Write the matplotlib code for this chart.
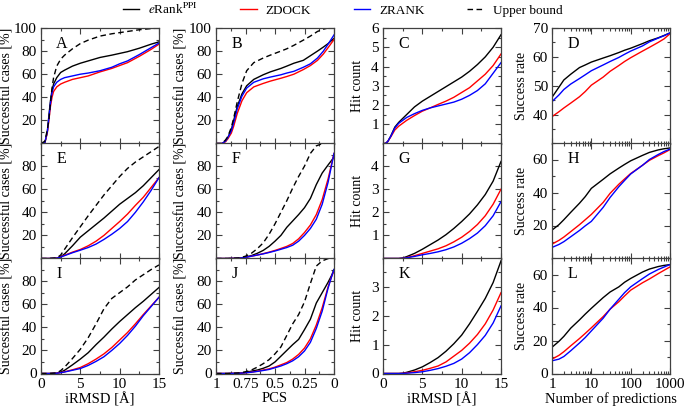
import numpy as np
import matplotlib.pyplot as plt
from matplotlib.ticker import MultipleLocator, FixedLocator, NullFormatter, LogLocator
from matplotlib.lines import Line2D

plt.rcParams['font.family'] = ['Liberation Serif', 'DejaVu Serif']
plt.rcParams['mathtext.fontset'] = 'stix'
plt.rcParams['font.size'] = 10

# ---- data ----
rmsd_a = [0, 0.5, 0.8, 1.0, 1.2, 1.4, 1.6, 2.0, 2.5, 3, 4, 5, 6, 7.5, 9, 10, 11, 12.5, 14, 15]
a_erank = [0, 1, 10, 24, 37, 46, 51.5, 57, 61.5, 63.5, 67, 69.5, 71.5, 74.5, 76.5, 78, 79.5, 82.5, 86, 88]
a_zdock = [0, 1, 9, 20, 32, 40, 45, 49, 51.5, 53, 55.5, 57, 58.5, 62, 65, 67.5, 70, 75.5, 81.5, 86]
a_zrank = [0, 1, 10, 22, 35, 44, 49, 53, 55.5, 57, 58.5, 60, 61, 63, 66, 69, 71.5, 77, 83, 87]
a_upper = [0, 2, 12, 20, 35, 48, 57, 67, 73, 76.5, 82, 86.5, 89.5, 93, 95, 96, 97, 98.5, 99.5, 100]

pcs_b = [1, 0.95, 0.92, 0.9, 0.87, 0.85, 0.82, 0.78, 0.74, 0.68, 0.6, 0.54, 0.45, 0.4, 0.34, 0.26, 0.2, 0.14, 0.09, 0.05, 0]
b_erank = [0, 0, 2, 5, 12, 20, 32, 43, 50, 55.5, 59.5, 62, 65, 67, 69.5, 72, 76, 80, 83.5, 86.5, 91]
b_zdock = [0, 0, 1.5, 4, 9, 15, 26, 37, 44, 49, 52, 54, 56.5, 58, 60, 64, 67.5, 72, 77.5, 83, 90]
b_zrank = [0, 0, 2, 5, 11, 18, 30, 41, 48, 53, 56, 57.5, 59.5, 61, 62.5, 66, 69, 74, 80, 86, 94]
b_upper = [0, 0, 3, 6, 14, 22, 36, 52, 63, 70, 74, 76.5, 80, 82, 85, 89.5, 93, 97, 99, 100, 100]

rmsd_c = [0, 0.3, 0.6, 1, 1.5, 2, 3, 4, 5, 6, 7, 8, 9, 10, 11, 12, 13, 14, 15]
c_erank = [0, 0, 0.1, 0.4, 0.85, 1.1, 1.5, 1.9, 2.2, 2.45, 2.7, 2.95, 3.2, 3.45, 3.75, 4.1, 4.5, 5.0, 5.65]
c_zdock = [0, 0, 0.1, 0.35, 0.7, 0.9, 1.2, 1.45, 1.68, 1.85, 2.03, 2.2, 2.4, 2.65, 2.9, 3.25, 3.6, 4.05, 4.65]
c_zrank = [0, 0, 0.1, 0.38, 0.8, 1.05, 1.35, 1.55, 1.72, 1.85, 1.95, 2.05, 2.15, 2.3, 2.5, 2.75, 3.1, 3.65, 4.2]

npred = [1, 1.5, 2, 3, 5, 7, 10, 20, 30, 50, 70, 100, 200, 300, 500, 700, 1000]
d_erank = [46, 49.5, 52, 54, 56.3, 57.2, 58.2, 59.6, 60.4, 61.5, 62.3, 63, 64.6, 65.6, 66.6, 67.4, 68.3]
d_zdock = [39.3, 41, 42.3, 44, 46.2, 48, 50.2, 53, 55, 57, 58.4, 59.7, 62, 63.3, 65, 66.2, 68]
d_zrank = [44.5, 46.8, 48.7, 50.6, 52.5, 53.8, 55.2, 57.2, 58.4, 59.8, 60.9, 62, 63.8, 65.2, 66.5, 67.3, 68.3]

rmsd_e = [0, 1, 2, 2.5, 3, 4, 5, 6, 7, 8, 9, 10, 11, 12, 13, 14, 15]
e_erank = [0, 0, 0.3, 1.5, 4, 11, 18.5, 24, 29.5, 35, 41, 47, 52, 57, 63, 70, 77]
e_zdock = [0, 0, 0.3, 1.5, 2.8, 5.5, 7.8, 11, 15, 20, 26, 32, 38.5, 46, 53, 61.5, 70]
e_zrank = [0, 0, 0.3, 1.3, 2.5, 5, 7.2, 9.5, 12.5, 16.5, 21, 26, 32, 40, 49, 59, 70]
e_upper = [0, 0, 0.5, 3, 8, 18, 27.5, 37, 46, 55, 63, 71, 78, 83.5, 88, 92.5, 97]

pcs_f = [1, 0.9, 0.8, 0.75, 0.7, 0.65, 0.6, 0.55, 0.5, 0.45, 0.4, 0.35, 0.3, 0.25, 0.2, 0.15, 0.1, 0.05, 0.02, 0]
f_erank = [0, 0, 0.3, 1.2, 2.5, 4.5, 7, 10.5, 15, 20, 27, 32.5, 38, 44, 52, 64, 74, 81, 85, 88]
f_zdock = [0, 0, 0.3, 1, 2, 3, 4.2, 5.5, 7, 8.7, 10.5, 13, 17, 22.5, 29, 38, 51, 69, 82, 91]
f_zrank = [0, 0, 0.3, 1, 2, 3, 4, 5.2, 6.5, 8, 9.5, 11.5, 15, 20, 26, 34, 47, 66, 81, 91]
f_upper = [0, 0, 0.5, 2, 4.5, 8.5, 13.5, 21, 30, 40, 50, 61, 71, 80, 91, 97.5, 99.5, 100, 100, 100]

rmsd_g = [0, 2, 2.5, 3, 4, 5, 6, 7, 8, 9, 10, 11, 12, 13, 14, 15]
g_erank = [0, 0, 0.02, 0.08, 0.22, 0.4, 0.6, 0.8, 1.03, 1.3, 1.6, 1.93, 2.32, 2.77, 3.35, 4.2]
g_zdock = [0, 0, 0.01, 0.04, 0.12, 0.22, 0.32, 0.42, 0.55, 0.72, 0.92, 1.17, 1.47, 1.85, 2.35, 3.0]
g_zrank = [0, 0, 0.01, 0.03, 0.09, 0.16, 0.22, 0.29, 0.38, 0.5, 0.66, 0.86, 1.1, 1.42, 1.85, 2.46]

h_erank = [17.2, 20.5, 23.5, 28, 33.5, 37.5, 42.5, 48, 51.3, 54.8, 57, 59.2, 62.5, 64.3, 65.8, 66.5, 67]
h_zdock = [8.7, 11, 13, 16.3, 20.5, 23.5, 26.7, 34, 39.5, 45, 48.2, 51.5, 56.5, 59.5, 62.3, 64, 66]
h_zrank = [6.7, 8.5, 10.2, 13.2, 17, 19.8, 22.5, 31, 37, 43.5, 47.3, 51.2, 56.5, 60, 63, 64.8, 66.3]

i_erank = [0, 0, 0.3, 1.2, 2.8, 7.5, 12.5, 18, 25, 31.5, 38.5, 45, 51, 57, 62.5, 68.5, 74.5]
i_zdock = [0, 0, 0.2, 0.8, 1.5, 3.2, 5.2, 8.5, 12.5, 17, 22.5, 29, 35.5, 43, 51, 58.5, 66]
i_zrank = [0, 0, 0.2, 0.7, 1.3, 2.8, 4.3, 7, 10.5, 14.5, 20, 26, 33, 41, 50, 58, 66]
i_upper = [0, 0, 0.5, 2.5, 5.5, 13, 21, 31, 43, 56, 65, 70, 75, 81, 85.5, 90, 94]

j_erank = [0, 0, 0.3, 1, 2, 3, 4.5, 6.5, 10, 15, 20, 25, 29.5, 38, 47, 61, 70, 79, 85, 90]
j_zdock = [0, 0, 0.2, 0.6, 1.2, 2, 3, 4, 5.5, 7.5, 9.5, 12.5, 16.5, 22, 30, 42, 57, 75, 84, 89]
j_zrank = [0, 0, 0.2, 0.6, 1.1, 1.8, 2.6, 3.5, 5, 6.5, 8.5, 11, 14.5, 19.5, 27, 39, 54, 74, 84, 90]
j_upper = [0, 0, 0.5, 1.5, 3, 5.5, 8.5, 12, 17, 23, 33, 43, 51, 62, 78, 93, 97.5, 99.5, 100, 100]

k_erank = [0, 0, 0.01, 0.04, 0.12, 0.23, 0.38, 0.55, 0.77, 1.03, 1.33, 1.72, 2.15, 2.6, 3.15, 3.9]
k_zdock = [0, 0, 0.005, 0.02, 0.06, 0.11, 0.18, 0.26, 0.4, 0.6, 0.8, 1.05, 1.35, 1.72, 2.2, 2.8]
k_zrank = [0, 0, 0.003, 0.01, 0.03, 0.06, 0.11, 0.17, 0.25, 0.35, 0.5, 0.72, 1.0, 1.32, 1.75, 2.34]

l_erank = [15.9, 19.5, 22.5, 27.5, 32.5, 36, 39.5, 46, 49.4, 52.5, 55.3, 57.6, 61.5, 63.3, 64.8, 65.5, 66]
l_zdock = [8.7, 11, 13.2, 16.8, 21.2, 24.3, 27.7, 34.5, 39, 43.5, 47, 50.5, 55, 57.3, 60.5, 62.5, 64.6]
l_zrank = [7.7, 8.7, 10.3, 13.8, 18.5, 21.8, 25.8, 33.5, 39, 45, 49, 52.5, 57.5, 60.3, 63, 64.5, 66]

letters = ['A', 'B', 'C', 'D', 'E', 'F', 'G', 'H', 'I', 'J', 'K', 'L']
ylabels = ['Successful cases [%]', 'Successful cases [%]', 'Hit count', 'Success rate']
xlabels = ['iRMSD [Å]', 'PCS', 'iRMSD [Å]', 'Number of predictions']

panels = [
    (rmsd_a, a_erank, a_zdock, a_zrank, a_upper),
    (pcs_b, b_erank, b_zdock, b_zrank, b_upper),
    (rmsd_c, c_erank, c_zdock, c_zrank, None),
    (npred, d_erank, d_zdock, d_zrank, None),
    (rmsd_e, e_erank, e_zdock, e_zrank, e_upper),
    (pcs_f, f_erank, f_zdock, f_zrank, f_upper),
    (rmsd_g, g_erank, g_zdock, g_zrank, None),
    (npred, h_erank, h_zdock, h_zrank, None),
    (rmsd_e, i_erank, i_zdock, i_zrank, i_upper),
    (pcs_f, j_erank, j_zdock, j_zrank, j_upper),
    (rmsd_g, k_erank, k_zdock, k_zrank, None),
    (npred, l_erank, l_zdock, l_zrank, None),
]

# y limits and labelled y ticks per panel
ylims = [(0, 100), (0, 100), (0, 6), (30, 70),
         (0, 100), (0, 100), (0, 5), (0, 70),
         (0, 100), (0, 100), (0, 4), (0, 70)]
yticks = [[20, 40, 60, 80, 100], [20, 40, 60, 80, 100], [1, 2, 3, 4, 5, 6], [40, 50, 60, 70],
          [20, 40, 60, 80], [20, 40, 60, 80], [1, 2, 3, 4], [20, 40, 60],
          [0, 20, 40, 60, 80], [0, 20, 40, 60, 80], [0, 1, 2, 3], [0, 20, 40, 60]]
yminor = [10, 10, 0.5, 5, 10, 10, 0.5, 10, 10, 10, 0.5, 10]

W, H = 685, 408
lefts = [41, 216, 383, 552]
tops = [28, 143, 258]
aw, ah = 118, 115.5
# right edge of the y label, in axes fraction, per column
ylab_x = [-0.235, -0.24, -0.165, -0.2]

fig = plt.figure(figsize=(6.85, 4.08), dpi=100)
frame = '0.25'

for k, (x, er, zd, zr, ub) in enumerate(panels):
    row, col = divmod(k, 4)
    ax = fig.add_axes([lefts[col] / W, 1 - (tops[row] + ah) / H, aw / W, ah / H])
    ax.plot(x, er, color='black', lw=1.0)
    ax.plot(x, zd, color='red', lw=1.0)
    ax.plot(x, zr, color='blue', lw=1.0)
    if ub is not None:
        ax.plot(x, ub, color='black', lw=1.0, ls=(0, (4, 2.5)))

    if col == 0 or col == 2:
        ax.set_xlim(0, 15)
        ax.xaxis.set_major_locator(FixedLocator([0, 5, 10, 15]))
        ax.xaxis.set_minor_locator(MultipleLocator(2.5))
        ax.set_xticklabels(['0', '5', '10', '15'])
    elif col == 1:
        ax.set_xlim(1, 0)
        ax.xaxis.set_major_locator(FixedLocator([1, 0.75, 0.5, 0.25, 0]))
        ax.xaxis.set_minor_locator(MultipleLocator(0.125))
        ax.set_xticklabels(['1', '0.75', '0.5', '0.25', '0'])
    else:
        ax.set_xscale('log')
        ax.set_xlim(1, 1000)
        ax.xaxis.set_major_locator(FixedLocator([1, 10, 100, 1000]))
        ax.xaxis.set_minor_locator(LogLocator(base=10, subs=np.arange(2, 10)))
        ax.xaxis.set_minor_formatter(NullFormatter())
        ax.set_xticklabels(['1', '10', '100', '1000'])

    ax.set_ylim(*ylims[k])
    ax.yaxis.set_major_locator(FixedLocator(yticks[k]))
    ax.yaxis.set_minor_locator(MultipleLocator(yminor[k]))
    ax.set_yticklabels([f'{v:g}' for v in yticks[k]])

    ax.tick_params(which='both', direction='in', top=True, right=True, color=frame)
    ax.tick_params(which='major', length=4.5, width=0.8, pad=3, labelsize=11)
    ax.tick_params(which='minor', length=2.5, width=0.8)
    for s in ax.spines.values():
        s.set_color(frame)
        s.set_linewidth(0.9)

    if row < 2:
        ax.tick_params(axis='x', labelbottom=False)
    else:
        ax.set_xlabel(xlabels[col], labelpad=1, fontsize=10.5)
    ax.set_ylabel(ylabels[col], fontsize=10)
    ax.yaxis.set_label_coords(ylab_x[col], 0.5)
    ax.text(0.13, 0.86, letters[k], transform=ax.transAxes, fontsize=11.5, va='center', ha='left')

handles = [Line2D([], [], color='black', lw=1.0),
           Line2D([], [], color='red', lw=1.0),
           Line2D([], [], color='blue', lw=1.0),
           Line2D([], [], color='black', lw=1.0, ls=(0, (4, 2.5)))]
names = [r'$e$Rank$^{\rm PPI}$', 'ZDOCK', 'ZRANK', 'Upper bound']
fig.legend(handles, names, loc='center', bbox_to_anchor=(0.5, 0.977), ncol=4, frameon=False,
           handlelength=1.25, handletextpad=0.7, columnspacing=3.2, fontsize=9.5)

fig.savefig('out.png', dpi=100)
